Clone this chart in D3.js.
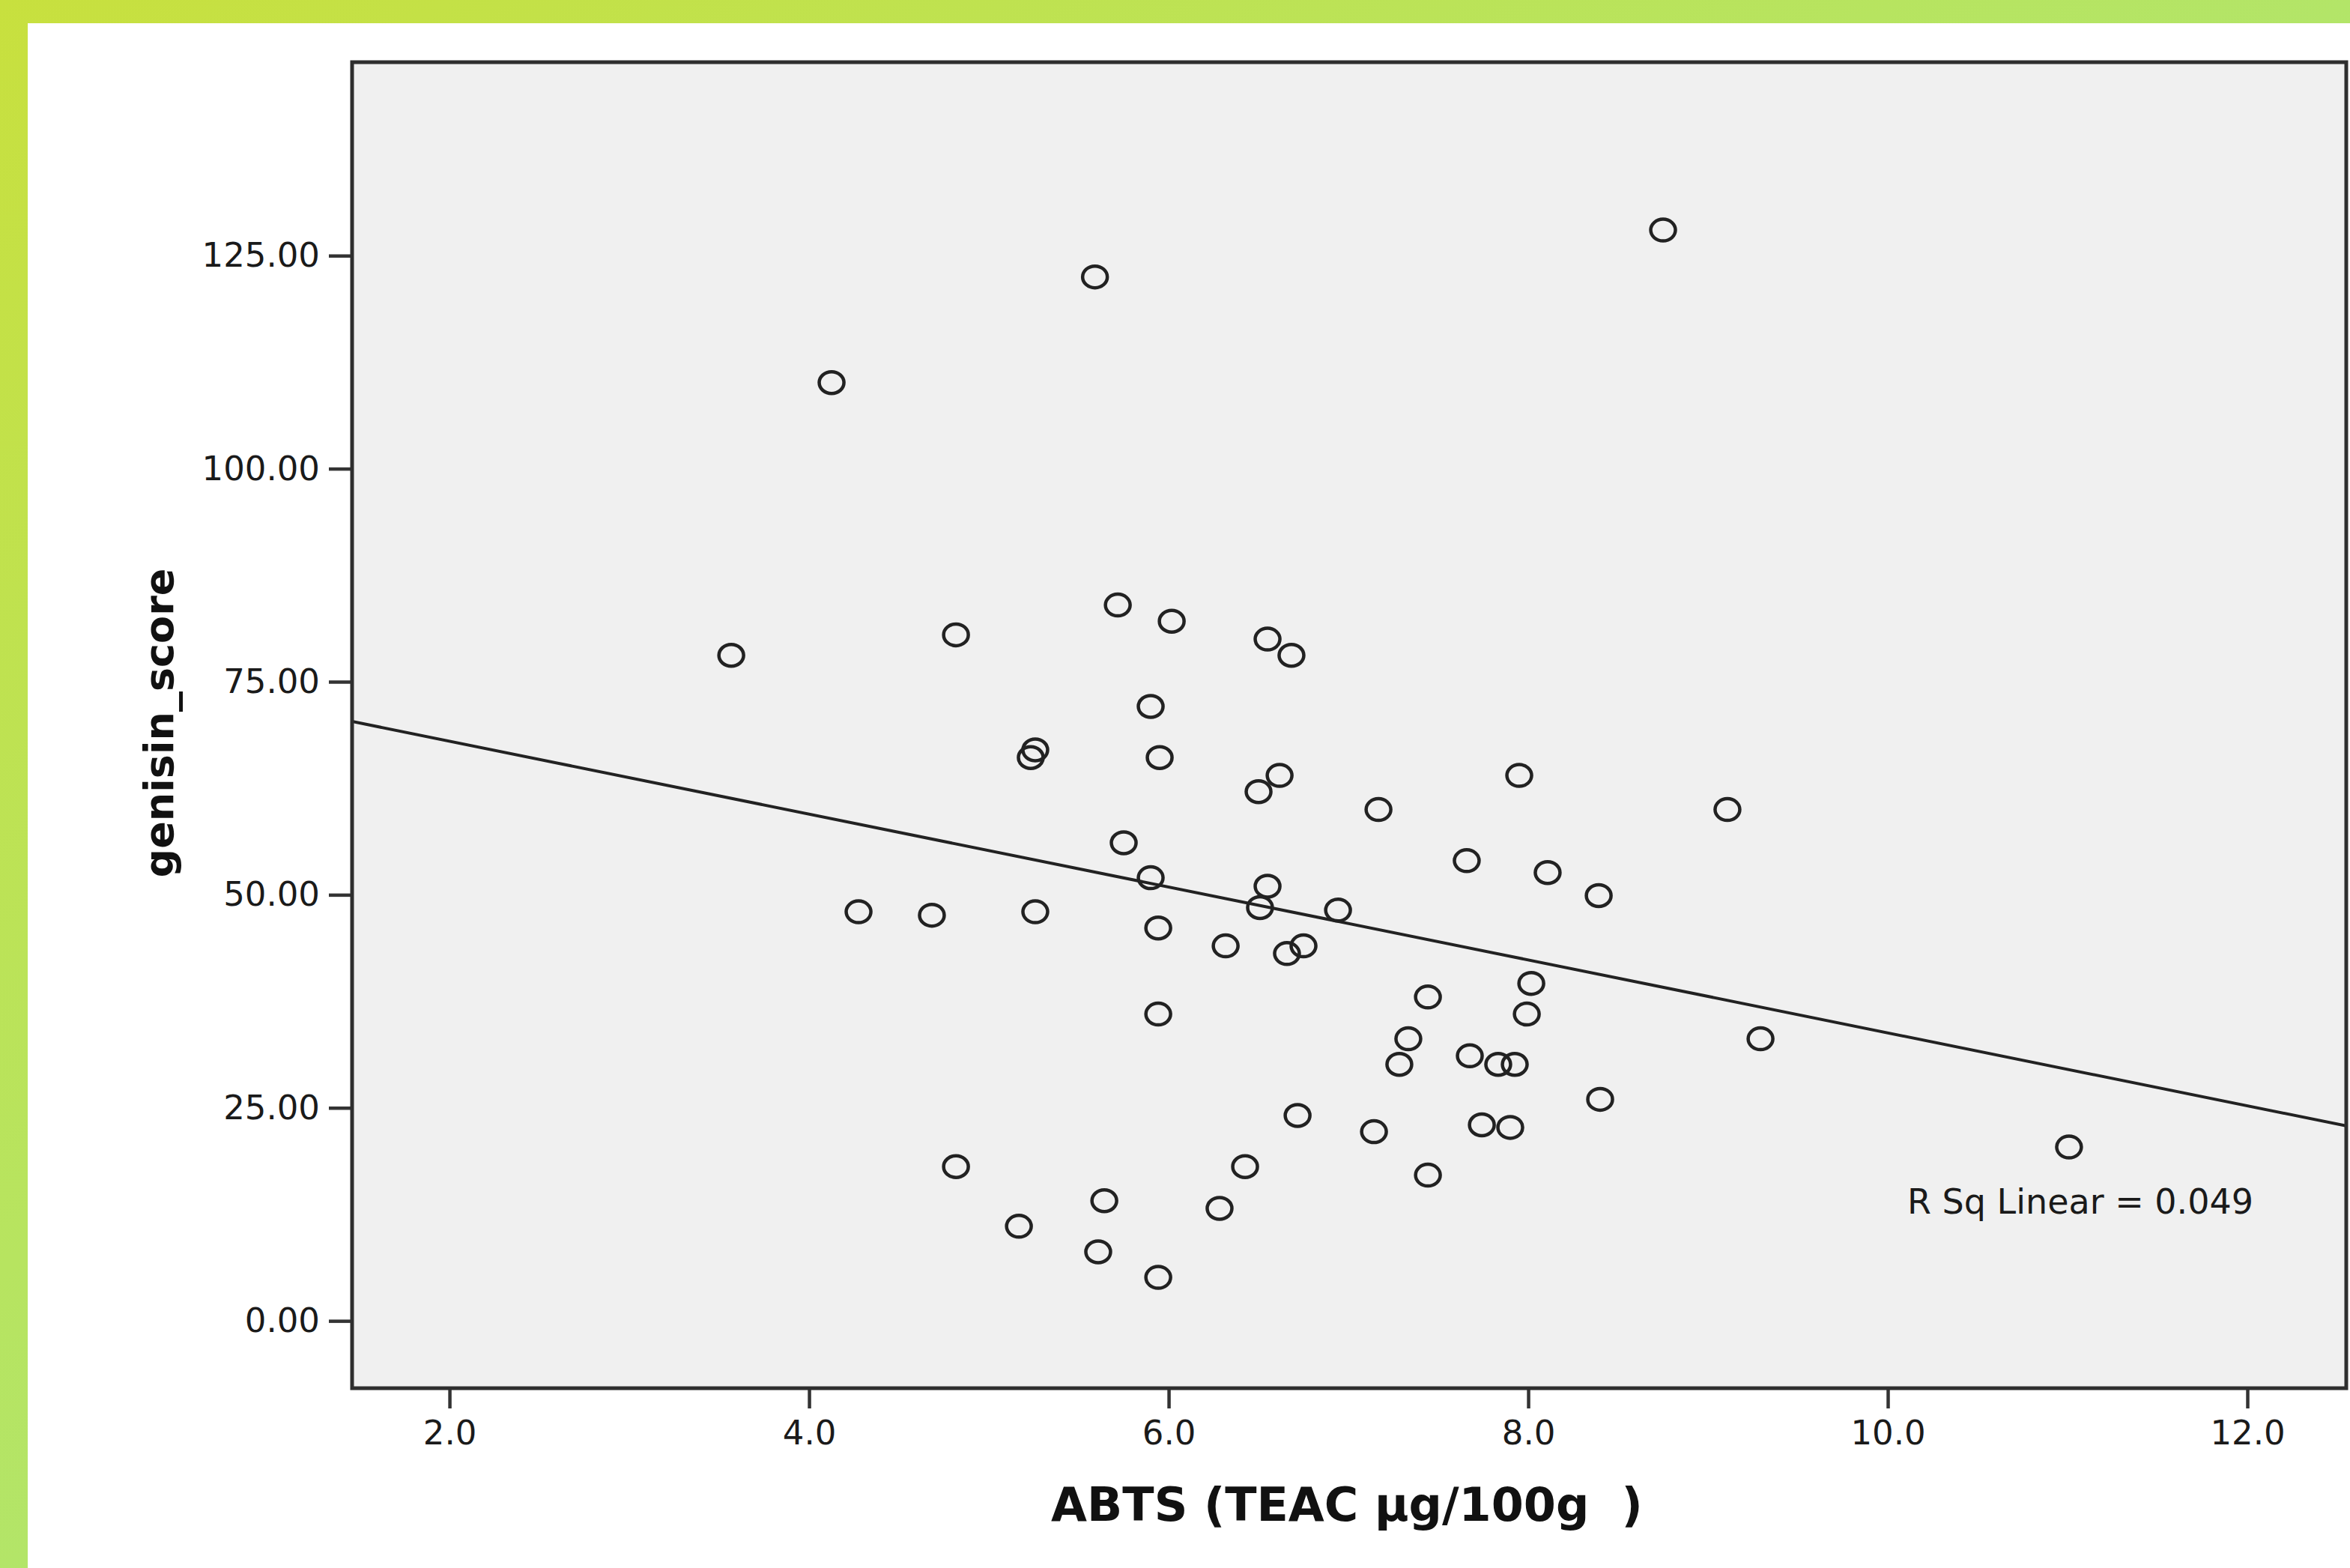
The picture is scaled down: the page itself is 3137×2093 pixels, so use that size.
<!DOCTYPE html>
<html>
<head>
<meta charset="utf-8">
<script src="https://cdnjs.cloudflare.com/ajax/libs/d3/7.8.5/d3.min.js"></script>
<style>
  html, body { margin: 0; padding: 0; background: #fff; }
  svg { display: block; }
  text { white-space: pre; }
</style>
</head>
<body>
<div id="chart"></div>
<script>
/* data */
var abts = [8.75, 5.59, 4.125, 3.567, 4.817, 5.717, 6.017, 6.55, 6.683, 5.9,
            5.258, 5.233, 5.95, 6.617, 6.5, 7.95, 7.167, 9.108, 5.75, 7.658,
            5.9, 8.108, 6.55, 8.392, 6.508, 6.942, 4.275, 4.683, 5.258, 5.942,
            6.317, 6.75, 6.658, 8.017, 7.442, 7.992, 5.942, 7.333, 9.292, 7.283,
            7.675, 7.833, 7.925, 8.4, 6.717, 7.142, 7.742, 7.9, 11.008, 4.817,
            6.425, 7.442, 5.642, 6.283, 5.167, 5.608, 5.942];

var genisin = [128.0, 122.5, 110.1, 78.1, 80.5, 84.0, 82.1, 80.0, 78.1, 72.1,
               67.0, 66.1, 66.1, 64.0, 62.1, 64.0, 60.0, 60.0, 56.1, 54.0,
               52.0, 52.6, 51.0, 49.9, 48.5, 48.2, 48.0, 47.6, 48.0, 46.1,
               44.0, 44.0, 43.1, 39.6, 38.0, 36.0, 36.0, 33.1, 33.1, 30.1,
               31.1, 30.1, 30.1, 26.0, 24.1, 22.2, 23.0, 22.7, 20.4, 18.1,
               18.1, 17.1, 14.1, 13.2, 11.1, 8.1, 5.1];

var xTicks = [2, 4, 6, 8, 10, 12];
var yTicks = [0, 25, 50, 75, 100, 125];
var xDomain = [1.458, 12.55];
var yDomain = [-7.9, 147.7];
var xTitle = "ABTS (TEAC \u00b5g/100g  )";
var yTitle = "genisin_score";
var rsqLabel = "R Sq Linear = 0.049";

var width = 3137,
    height = 2093;

var box = {left: 470, top: 83, right: 3132, bottom: 1853};

var svg = d3.select("#chart")
            .append("svg")
            .attr("width", width)
            .attr("height", height);

/* green frame */
var grad = svg.append("defs").append("linearGradient")
              .attr("id", "frame")
              .attr("x1", 0).attr("y1", 0)
              .attr("x2", 1).attr("y2", 1);
grad.append("stop").attr("offset", 0).attr("stop-color", "#c8e03e");
grad.append("stop").attr("offset", 1).attr("stop-color", "#9eea92");

svg.append("rect")
    .attr("width", width)
    .attr("height", height)
    .attr("fill", "url(#frame)");

svg.append("rect")
    .attr("x", 37)
    .attr("y", 31)
    .attr("width", width - 37)
    .attr("height", height - 31)
    .attr("fill", "#ffffff");

/* scales */
var x = d3.scaleLinear().domain(xDomain).range([box.left, box.right]),
    y = d3.scaleLinear().domain(yDomain).range([box.bottom, box.top]);

/* plot area */
svg.append("rect")
    .attr("x", box.left)
    .attr("y", box.top)
    .attr("width", box.right - box.left)
    .attr("height", box.bottom - box.top)
    .attr("fill", "#f0f0f0");

svg.append("clipPath").attr("id", "clip")
    .append("rect")
    .attr("x", box.left)
    .attr("y", box.top)
    .attr("width", box.right - box.left)
    .attr("height", box.bottom - box.top);

/* axes */
var xAxis = d3.axisBottom(x)
              .tickValues(xTicks)
              .tickFormat(d3.format(".1f"))
              .tickSize(27)
              .tickPadding(16);

var yAxis = d3.axisLeft(y)
              .tickValues(yTicks)
              .tickFormat(d3.format(".2f"))
              .tickSize(31)
              .tickPadding(12);

var gx = svg.append("g")
            .attr("transform", "translate(0," + box.bottom + ")")
            .call(xAxis);

var gy = svg.append("g")
            .attr("transform", "translate(" + box.left + ",0)")
            .call(yAxis);

[gx, gy].forEach(function(g) {
    g.select(".domain").remove();
    g.selectAll("line").attr("stroke", "#333").attr("stroke-width", 4.5);
    g.selectAll("text")
        .attr("fill", "#1a1a1a")
        .attr("font-family", "DejaVu Sans, sans-serif")
        .attr("font-size", 45);
});

/* regression line, least squares on the points */
var mx = d3.mean(abts),
    my = d3.mean(genisin);
var sxy = d3.sum(abts, function(v, i) { return (v - mx) * (genisin[i] - my); }),
    sxx = d3.sum(abts, function(v) { return (v - mx) * (v - mx); });
var slope = sxy / sxx,
    intercept = my - slope * mx;

svg.append("line")
    .attr("clip-path", "url(#clip)")
    .attr("x1", x(xDomain[0]))
    .attr("y1", y(intercept + slope * xDomain[0]))
    .attr("x2", x(xDomain[1]))
    .attr("y2", y(intercept + slope * xDomain[1]))
    .attr("stroke", "#222")
    .attr("stroke-width", 4);

/* points */
svg.append("g")
    .selectAll("ellipse")
    .data(abts)
    .enter().append("ellipse")
        .attr("cx", function(d) { return x(d); })
        .attr("cy", function(d, i) { return y(genisin[i]); })
        .attr("rx", 16.5)
        .attr("ry", 14.5)
        .attr("fill", "none")
        .attr("stroke", "#222")
        .attr("stroke-width", 4.5);

/* frame of plot area */
svg.append("rect")
    .attr("x", box.left)
    .attr("y", box.top)
    .attr("width", box.right - box.left)
    .attr("height", box.bottom - box.top)
    .attr("fill", "none")
    .attr("stroke", "#2e2e2e")
    .attr("stroke-width", 5);

/* texts */
svg.append("text")
    .attr("x", 2546)
    .attr("y", 1620)
    .attr("font-family", "DejaVu Sans, sans-serif")
    .attr("font-size", 46)
    .attr("fill", "#1a1a1a")
    .text(rsqLabel);

svg.append("text")
    .attr("x", 1798)
    .attr("y", 2030)
    .attr("text-anchor", "middle")
    .attr("font-family", "DejaVu Sans, sans-serif")
    .attr("font-weight", "bold")
    .attr("font-size", 62)
    .attr("fill", "#111")
    .text(xTitle);

svg.append("text")
    .attr("transform", "translate(231,965) rotate(-90)")
    .attr("text-anchor", "middle")
    .attr("font-family", "DejaVu Sans, sans-serif")
    .attr("font-weight", "bold")
    .attr("font-size", 54)
    .attr("fill", "#111")
    .text(yTitle);
</script>
</body>
</html>
